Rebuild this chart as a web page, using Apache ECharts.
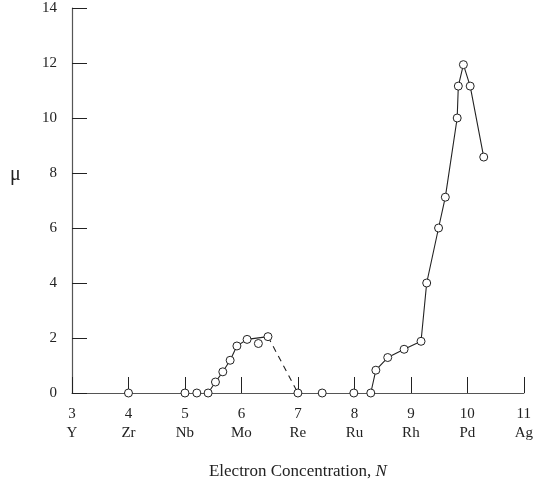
<!DOCTYPE html>
<html>
<head>
<meta charset="utf-8">
<script src="https://cdn.jsdelivr.net/npm/echarts@6/dist/echarts.min.js"></script>
<style>html,body{margin:0;padding:0;background:#fff}#c{width:536px;height:488px}</style>
</head>
<body>
<div id="c"></div>
<script>
// Tick labels
var xTickNums = [3, 4, 5, 6, 7, 8, 9, 10, 11];
var xTickElems = ['Y', 'Zr', 'Nb', 'Mo', 'Re', 'Ru', 'Rh', 'Pd', 'Ag'];
var yTicks = [0, 2, 4, 6, 8, 10, 12, 14];

// Isolated points on the baseline
var baseX = [4, 5, 5.21, 7.0, 7.43, 7.99];
var baseY = [0, 0, 0, 0, 0, 0];

// Mo region (solid)
var moX = [5.41, 5.54, 5.67, 5.80, 5.92, 6.10, 6.47];
var moY = [0, 0.4, 0.77, 1.19, 1.71, 1.95, 2.05];

// Off-line point
var offX = [6.30];
var offY = [1.8];

// Dashed decline
var dashX = [6.47, 7.0];
var dashY = [2.05, 0];

// Pd region (solid)
var pdX = [8.29, 8.38, 8.59, 8.88, 9.18, 9.28, 9.49, 9.61, 9.82, 9.84, 9.93, 10.05, 10.29];
var pdY = [0, 0.83, 1.29, 1.59, 1.88, 4.0, 6.0, 7.12, 10.0, 11.16, 11.94, 11.16, 8.58];

function zip(a, b) { return a.map(function (v, i) { return [v, b[i]]; }); }

var font = '"Liberation Serif", "DejaVu Serif", serif';
var ink = '#222';
function sym() {
  return { symbol: 'circle', symbolSize: 8,
    itemStyle: { color: '#fff', borderColor: ink, borderWidth: 1, opacity: 1 } };
}

var chart = echarts.init(document.getElementById('c'));
chart.setOption({
  animation: false,
  backgroundColor: '#fff',
  grid: { left: 72, right: 11, top: 8, bottom: 95 },
  xAxis: {
    type: 'value', min: 3, max: 11, interval: 1,
    axisLine: { lineStyle: { color: '#555', width: 1.2 } },
    axisTick: { inside: true, length: 16, lineStyle: { color: ink, width: 1 } },
    splitLine: { show: false },
    axisLabel: {
      margin: 12, fontFamily: font, fontSize: 15, color: ink, lineHeight: 19,
      formatter: function (v) {
        var i = xTickNums.indexOf(Math.round(v));
        return i >= 0 ? xTickNums[i] + '\n' + xTickElems[i] : '';
      }
    },
    name: '{a|Electron Concentration, }{b|N}',
    nameLocation: 'middle', nameGap: 70,
    nameTextStyle: {
      rich: {
        a: { fontFamily: font, fontSize: 17, color: ink },
        b: { fontFamily: font, fontSize: 17, color: ink, fontStyle: 'italic' }
      }
    }
  },
  yAxis: {
    type: 'value', min: 0, max: 14, interval: 2,
    axisLine: { show: true, lineStyle: { color: '#555', width: 1.2 } },
    axisTick: { show: true, inside: true, length: 15, lineStyle: { color: ink, width: 1 } },
    splitLine: { show: false },
    axisLabel: {
      margin: 15, fontFamily: font, fontSize: 15, color: ink,
      formatter: function (v) { return yTicks.indexOf(v) >= 0 ? String(v) : ''; }
    }
  },
  graphic: [{
    type: 'text', left: 10, top: 165,
    style: { text: 'μ', font: '20px ' + font, fill: ink }
  }],
  series: [
    {
      type: 'line', data: zip(dashX, dashY), showSymbol: false, symbol: 'none',
      lineStyle: { color: ink, width: 1.1, type: [6, 5] }, z: 2
    },
    Object.assign({ type: 'line', data: zip(moX, moY), showSymbol: true,
      lineStyle: { color: ink, width: 1.1 }, z: 3 }, sym()),
    Object.assign({ type: 'line', data: zip(pdX, pdY), showSymbol: true,
      lineStyle: { color: ink, width: 1.1 }, z: 3 }, sym()),
    Object.assign({ type: 'scatter', data: zip(baseX, baseY), z: 4 }, sym()),
    Object.assign({ type: 'scatter', data: zip(offX, offY), z: 4 }, sym())
  ]
});
</script>
</body>
</html>
